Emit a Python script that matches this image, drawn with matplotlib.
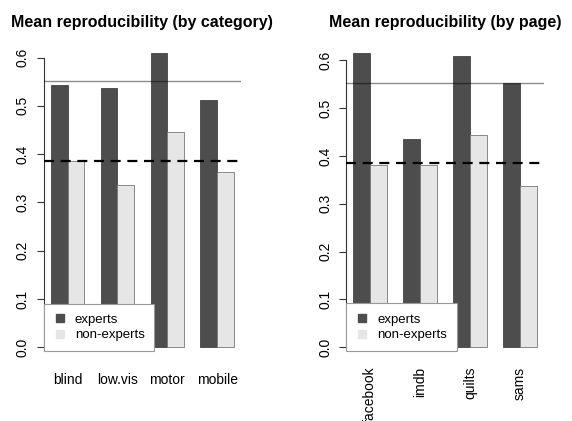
import matplotlib
matplotlib.use("Agg")
import matplotlib.pyplot as plt
import numpy as np
from matplotlib.lines import Line2D

plt.rcParams['font.family'] = ['Liberation Sans', 'DejaVu Sans']

cat_labels = ["blind", "low.vis", "motor", "mobile"]
cat_experts = [0.543, 0.537, 0.610, 0.513]
cat_nonexperts = [0.386, 0.337, 0.446, 0.362]

page_labels = ["facebook", "imdb", "quilts", "sams"]
page_experts = [0.616, 0.436, 0.609, 0.552]
page_nonexperts = [0.381, 0.381, 0.443, 0.337]

overall_experts = 0.552
overall_nonexperts = 0.385

titles = ["Mean reproducibility (by category)", "Mean reproducibility (by page)"]
legend_labels = ["experts", "non-experts"]
yticks = [0.0, 0.1, 0.2, 0.3, 0.4, 0.5, 0.6]

W, H = 572, 421
fig = plt.figure(figsize=(W / 100, H / 100), dpi=100)

c_exp = "#4D4D4D"
c_non = "#E6E6E6"

panels = [
    (43.7, 241.0, cat_labels, cat_experts, cat_nonexperts, 0),
    (346.0, 544.0, page_labels, page_experts, page_nonexperts, 90),
]
top_px, bot_px = 41.0, 359.0

for i, (x0, x1, labels, ex, ne, rot) in enumerate(panels):
    ax = fig.add_axes([x0 / W, (H - bot_px) / H, (x1 - x0) / W, (bot_px - top_px) / H])
    n = len(labels)
    left_e = np.array([1 + 3 * k for k in range(n)], dtype=float)
    ax.bar(left_e, ex, width=1, align='edge', color=c_exp, edgecolor="#444444", linewidth=0.6, zorder=2)
    ax.bar(left_e + 1, ne, width=1, align='edge', color=c_non, edgecolor="#777777", linewidth=0.6, zorder=2)
    ymax = max(max(ex), max(ne))
    ax.set_ylim(-0.04 * ymax, 1.04 * ymax)
    ax.set_xlim(0.56, 3 * n + 0.44)
    ax.axhline(overall_experts, color="black", alpha=0.45, lw=1.0, zorder=3)
    ax.axhline(overall_nonexperts, color="black", lw=1.6, ls=(0, (4.5, 3)), zorder=3)
    for s in ["top", "right", "bottom"]:
        ax.spines[s].set_visible(False)
    ax.spines["left"].set_bounds(0, 0.6)
    ax.spines["left"].set_color("#333333")
    ax.spines["left"].set_linewidth(0.8)
    ax.set_yticks(yticks)
    ax.set_yticklabels([f"{t:.1f}" for t in yticks], rotation=90, va="center")
    ax.tick_params(axis="y", length=5, width=0.8, color="#333333", pad=5, labelsize=10)
    ax.set_xticks(left_e + 1)
    if rot == 0:
        ax.set_xticklabels(labels)
        ax.tick_params(axis="x", length=0, pad=10, labelsize=10)
    else:
        ax.set_xticklabels(labels, rotation=90, ha="center", va="top")
        ax.tick_params(axis="x", length=0, pad=5.5, labelsize=10)
    ax.set_title(titles[i], fontsize=11.5, fontweight="bold", pad=10)

    ylo, yhi = ax.get_ylim()
    handles = [Line2D([], [], marker="s", ls="none", color=c_exp, markersize=6),
               Line2D([], [], marker="s", ls="none", color=c_non, markersize=6)]
    leg = ax.legend(handles, legend_labels, loc="lower left",
                    bbox_to_anchor=(0, (-0.008 - ylo) / (yhi - ylo)),
                    borderaxespad=0, fancybox=False, framealpha=1,
                    edgecolor="#999999", fontsize=9.5, handlelength=1.0,
                    handletextpad=0.6, borderpad=0.75, labelspacing=0.25)
    leg.get_frame().set_linewidth(0.8)
    leg.set_zorder(5)

fig.savefig("out.png", dpi=100)
